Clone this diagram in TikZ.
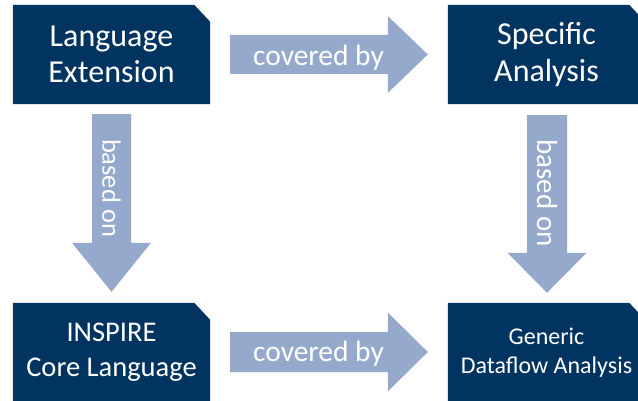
\documentclass[tikz,border=0pt]{standalone}
\usepackage{fontspec}
\setmainfont{Carlito}
\usetikzlibrary{calc,backgrounds}
\definecolor{navy}{HTML}{023461}
\definecolor{arrowblue}{HTML}{95A9CC}
\newcommand\snipfill[1]{\fill[navy] (#1.south west) -- (#1.north west) -- ([xshift=-16pt]#1.north east) -- ([yshift=-17pt]#1.north east) -- (#1.south east) -- cycle;}
% start, end, shaft half width, head half width, head length
\newcommand\harrowfill[5]{\fill[arrowblue] let \p1=(#1), \p2=(#2) in (\x1,\y1+#3) -- (\x2-#5,\y1+#3) -- (\x2-#5,\y1+#4) -- (\x2,\y1) -- (\x2-#5,\y1-#4) -- (\x2-#5,\y1-#3) -- (\x1,\y1-#3) -- cycle;}
\newcommand\varrowfill[5]{\fill[arrowblue] let \p1=(#1), \p2=(#2) in (\x1-#3,\y1) -- (\x1-#3,\y2+#5) -- (\x1-#4,\y2+#5) -- (\x1,\y2) -- (\x1+#4,\y2+#5) -- (\x1+#3,\y2+#5) -- (\x1+#3,\y1) -- cycle;}
\begin{document}
\begin{tikzpicture}[x=1pt,y=1pt,
  box/.style={minimum width=197pt, minimum height=99pt, inner sep=0pt, text=white, align=center},
  arrowlabel/.style={text=white, inner sep=0pt}]
\useasboundingbox (0,0) rectangle (638,400);
% boxes
\node[box, font=\fontsize{32}{36.5}\selectfont] (le) at (111.5,345.5) {Language\\Extension};
\node[box, font=\fontsize{32}{36.5}\selectfont] (sa) at (546.5,345.5) {Specific\\Analysis};
\node[box, font=\fontsize{28.5}{35}\selectfont] (icl) at (111.5,47.5) {INSPIRE\\Core Language};
\node[box, font=\fontsize{24}{29}\selectfont] (gda) at (546.5,47.5) {Generic\\Dataflow Analysis};
% arrow end points
\coordinate (a1s) at ($(le.east)+(20,0)$);
\coordinate (a1t) at ($(sa.west)+(-20,0)$);
\coordinate (a2s) at ($(icl.east)+(20,0.5)$);
\coordinate (a2t) at ($(gda.west)+(-20,0.5)$);
\coordinate (a3s) at ($(le.south)+(0,-10)$);
\coordinate (a3t) at ($(icl.north)+(0,11)$);
\coordinate (a4s) at ($(sa.south)+(0.5,-11)$);
\coordinate (a4t) at ($(gda.north)+(0.5,10)$);
% arrow labels
\node[arrowlabel, anchor=base, font=\fontsize{29.5}{34}\selectfont] (c1) at (318.5,334.3) {covered by};
\node[arrowlabel, anchor=base, font=\fontsize{29.5}{34}\selectfont] (c2) at (318.5,38.3) {covered by};
\node[arrowlabel, rotate=-90, font=\fontsize{26.5}{30}\selectfont] (b1) at (111.5,212) {based on};
\node[arrowlabel, rotate=-90, font=\fontsize{29}{33}\selectfont] (b2) at (547,207) {based on};
\begin{scope}[on background layer]
  \snipfill{le}
  \snipfill{sa}
  \snipfill{icl}
  \snipfill{gda}
  \harrowfill{a1s}{a1t}{19.5pt}{38.5pt}{40pt}
  \harrowfill{a2s}{a2t}{20pt}{39.5pt}{40pt}
  \varrowfill{a3s}{a3t}{19.5pt}{39.5pt}{49pt}
  \varrowfill{a4s}{a4t}{20pt}{39.5pt}{40pt}
\end{scope}
\end{tikzpicture}
\end{document}
